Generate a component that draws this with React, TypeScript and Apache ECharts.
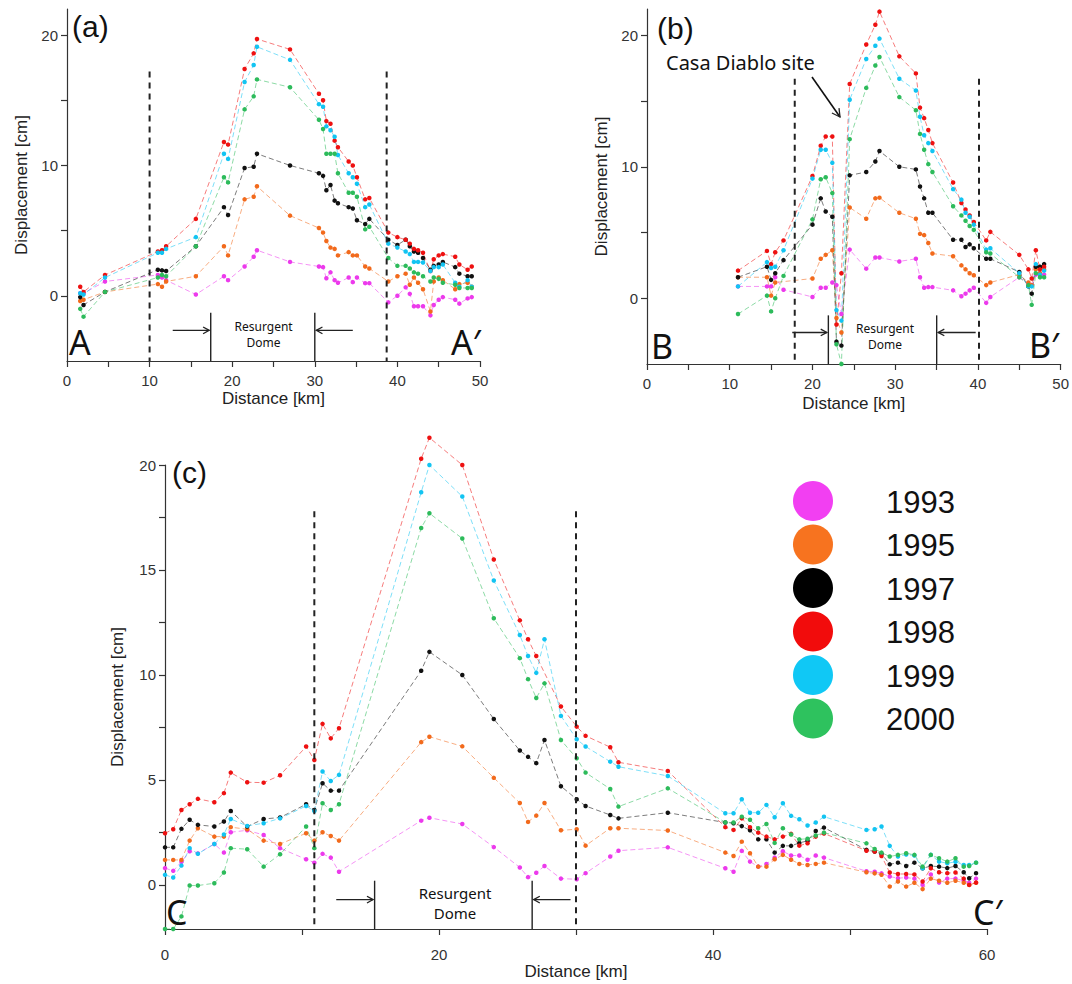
import React, { useEffect, useRef } from "react";
import * as echarts from "echarts";

const YEARS = ["1993", "1995", "1997", "1998", "1999", "2000"];
const YEAR_COLORS = ["#ec3aec", "#f26a1c", "#111111", "#ee1111", "#12c4f2", "#2dbb5b"];
const LEGEND_COLORS = ["#f23ff2", "#f7731f", "#000000", "#f20c0c", "#10c8f5", "#2ec25e"];

// ---------- Panel (a) ----------
const distA = [1.6, 2.0, 4.6, 11.0, 11.5, 12.0, 15.6, 19.0, 19.5, 21.5, 22.6, 23.0, 27.0, 30.5, 31.0, 31.4, 31.9, 32.4, 32.8, 34.1, 34.6, 35.1, 36.1, 36.6, 38.9, 40.0, 41.0, 41.5, 42.0, 42.5, 43.1, 44.0, 44.4, 45.0, 45.5, 47.0, 47.5, 48.5, 49.0];
const a1993 = [0.2, 0.2, 1.1, 1.6, 1.4, 1.2, 0.1, 1.5, 1.2, 2.25, 3.0, 3.5, 2.6, 2.25, 2.2, 1.35, 1.8, 1.2, 1.0, 1.4, 1.05, 1.4, 0.97, 0.97, -0.5, 0.0, 0.65, 0.15, -0.8, -0.8, -0.8, -1.5, -0.7, -0.3, -0.1, -0.3, -0.6, -0.2, -0.1];
const a1995 = [-0.4, -0.3, 0.3, 0.9, 0.7, 1.1, 1.5, 3.8, 3.1, 7.4, 7.6, 8.4, 6.15, 5.2, 4.85, 4.2, 3.7, 3.6, 3.1, 3.35, 3.1, 3.1, 2.25, 2.1, 1.1, 1.5, 1.7, 0.85, 1.4, 1.0, 0.5, -1.2, 1.1, 1.4, 1.2, 0.5, 0.9, 1.0, 0.7];
const a1997 = [-0.1, -0.7, 0.3, 2.0, 1.95, 1.9, 3.8, 6.8, 6.2, 9.8, 9.9, 10.9, 10.0, 9.4, 9.2, 8.1, 8.5, 7.3, 7.1, 6.8, 6.7, 5.8, 5.5, 5.9, 4.3, 3.9, 4.3, 3.8, 3.4, 3.3, 2.9, 2.0, 2.3, 2.4, 2.6, 2.2, 1.7, 1.5, 1.5];
const a1998 = [0.7, 0.3, 1.6, 3.4, 3.5, 3.8, 5.9, 11.8, 11.6, 17.4, 18.6, 19.7, 18.9, 15.5, 15.0, 13.4, 13.2, 11.9, 11.4, 10.3, 10.0, 9.1, 7.4, 7.5, 4.85, 4.5, 4.3, 4.0, 3.6, 3.5, 3.3, 1.9, 2.8, 3.1, 3.2, 3.0, 2.4, 2.0, 2.25];
const a1999 = [0.2, 0.1, 1.4, 3.3, 3.3, 3.6, 4.5, 10.9, 10.5, 16.4, 17.7, 19.1, 18.1, 14.7, 14.5, 13.0, 12.7, 12.2, 10.8, 9.4, 9.1, 8.6, 6.8, 7.0, 4.0, 3.7, 3.4, 3.2, 2.6, 2.6, 2.55, 1.9, 2.2, 2.2, 2.4, 1.0, 0.7, 1.2, 0.7];
const a2000 = [-1.0, -1.6, 0.3, 1.4, 1.6, 1.5, 3.8, 9.1, 8.7, 14.3, 15.3, 16.6, 16.0, 13.5, 12.8, 10.9, 10.9, 10.9, 9.4, 7.9, 7.9, 7.6, 5.1, 5.3, 2.9, 2.3, 2.3, 2.1, 1.8, 1.7, 1.5, 1.1, 1.4, 1.3, 1.0, 0.85, 0.6, 0.6, 0.6];

// ---------- Panel (b) ----------
const distB = [11.0, 14.5, 15.0, 15.5, 16.5, 20.0, 21.0, 21.6, 22.4, 22.9, 23.5, 24.5, 26.5, 27.6, 28.1, 30.5, 32.5, 33.0, 33.5, 34.0, 34.5, 37.0, 38.0, 38.5, 39.0, 39.5, 41.0, 41.5, 45.0, 46.1, 46.5, 47.0, 47.5, 48.0];
const b1993 = [0.9, 0.9, 0.9, 1.6, 0.65, 0.1, 0.8, 0.8, 1.2, 1.0, -1.2, 3.7, 2.25, 3.1, 3.1, 2.8, 3.0, 1.6, 0.8, 0.85, 0.85, 0.6, 0.15, 0.35, 0.6, 0.8, -0.35, 0.1, 1.6, 1.1, 1.0, 1.8, 1.8, 1.8];
const b1995 = [1.6, 1.6, 0.2, 1.2, null, 1.5, 3.0, 3.3, 3.65, -1.5, -2.6, 6.9, 6.05, 7.6, 7.65, 6.5, 6.05, 4.9, 4.8, 4.2, 3.4, 3.2, 2.5, 2.2, 1.9, 1.75, 1.0, 1.2, 1.8, 1.2, 1.0, 2.2, 1.9, 2.2];
const b1997 = [1.6, 2.4, 1.4, 1.9, 2.9, 5.6, 7.6, 6.6, 6.2, -3.3, -3.6, 9.35, 9.6, 10.4, 11.2, 10.0, 9.8, 8.5, 7.6, 6.5, 6.5, 4.45, 4.45, 3.9, 4.1, 3.8, 3.0, 3.0, 2.0, 0.9, 0.35, 2.4, 2.4, 2.6];
const b1998 = [2.1, 3.6, 2.6, 3.5, 4.4, 9.3, 11.6, 12.3, 12.3, -2.0, 1.9, 16.3, 19.3, 20.8, 21.8, 18.4, 17.1, 14.5, 13.7, 12.8, 11.8, 8.8, 7.25, 6.75, 6.3, 5.8, 4.4, 5.05, 3.3, 2.2, 1.5, 3.65, 2.2, 2.4];
const b1999 = [0.9, 2.75, 2.3, 2.4, 3.65, 9.1, 11.3, 11.3, 10.3, -0.9, -1.7, 15.1, 18.2, 19.2, 19.75, 16.7, 15.8, 13.8, 12.4, 11.8, 11.2, 8.3, 7.5, 6.5, 6.2, 5.6, 3.7, 3.8, 1.9, 0.9, 0.9, 2.6, 1.8, 2.1];
const b2000 = [-1.2, 0.2, -1.0, 0.0, 1.7, 6.0, 9.05, 9.2, 8.0, -3.5, -5.0, 12.1, 16.0, 17.7, 18.35, 15.3, 14.3, 12.5, 11.3, 10.2, 9.6, 7.0, 6.3, 5.9, 5.5, 5.2, 3.5, 3.4, 1.6, 1.0, -0.5, 1.9, 1.6, 1.6];

// ---------- Panel (c) ----------
const distC = [0.0, 0.6, 1.2, 1.8, 2.4, 3.6, 4.3, 4.8, 6.0, 7.2, 8.4, 10.3, 10.9, 11.5, 12.1, 12.7, 18.7, 19.3, 21.7, 24.0, 25.9, 26.5, 27.1, 27.7, 28.9, 30.05, 30.7, 32.5, 33.1, 36.7, 40.9, 41.5, 42.1, 42.7, 43.3, 43.9, 44.5, 45.1, 45.7, 46.3, 46.9, 47.5, 48.1, 51.2, 51.8, 52.3, 52.9, 53.5, 54.1, 54.7, 55.3, 55.9, 56.5, 57.1, 57.7, 58.3, 58.7, 59.2];
const c1993 = [0.8, 0.67, 1.1, 1.6, 1.5, 1.95, 1.54, 2.51, 2.6, 2.38, 1.75, 1.22, 1.06, 1.48, 1.3, 0.63, 3.06, 3.2, 2.9, 1.8, 0.83, 0.37, 0.58, 0.9, 0.3, 0.27, 0.56, 1.35, 1.63, 1.79, 0.79, 0.63, 1.62, 1.11, 0.87, 1.0, 1.3, 1.6, 1.4, 1.4, 1.2, 1.4, 1.3, 0.65, 0.63, 0.55, 0.4, 0.32, 0.35, 0.3, 0.0, 0.5, 0.11, 0.3, 0.3, 0.2, 0.1, 0.3];
const c1995 = [1.19, 1.19, 1.19, 2.11, 2.7, 2.3, 2.3, 2.75, 2.65, 2.11, 1.95, 2.46, 2.11, 2.51, 2.33, 2.11, 6.8, 7.06, 6.6, 5.1, 3.9, 3.0, 3.3, 3.9, 2.6, 2.65, 1.87, 2.7, 2.7, 2.59, 1.54, 1.38, 2.06, 1.51, 0.87, 0.87, 1.22, 1.43, 1.2, 1.0, 0.95, 1.0, 1.06, 0.6, 0.55, 0.48, -0.08, 0.16, -0.08, 0.1, -0.2, 0.3, 0.2, 0.1, 0.2, 0.1, 0.0, 0.1];
const c1997 = [1.79, 1.79, 2.67, 3.1, 2.86, 2.78, 3.02, 3.52, 2.78, 3.14, 3.21, 3.84, 3.57, 4.84, 4.49, 4.49, 10.2, 11.1, 10.0, 7.9, 6.4, 6.1, 5.8, 6.9, 4.7, 4.08, 3.76, 3.33, 3.17, 3.44, 2.97, 2.94, 2.8, 2.6, 2.17, 2.17, 1.54, 1.86, 1.86, 2.0, 2.1, 2.57, 2.73, 1.67, 1.59, 1.48, 0.98, 1.06, 0.9, 1.06, 0.79, 0.9, 0.87, 0.8, 0.9, 0.6, 0.32, 0.56];
const c1998 = [2.46, 2.65, 3.57, 3.84, 4.1, 3.94, 4.37, 5.35, 4.89, 4.87, 5.22, 6.59, 5.95, 7.67, 6.98, 7.46, 20.3, 21.3, 20.0, 15.5, 12.6, 11.7, 10.9, null, 8.5, 7.54, 7.1, 6.56, 5.84, 5.43, 2.75, 2.62, 3.17, 2.75, 2.49, 2.3, 2.17, 2.3, 2.43, 1.87, 1.98, 2.3, 2.45, 1.63, 1.59, 1.38, 0.59, 0.52, 0.52, 0.5, 0.16, 0.79, 0.6, 0.56, 0.59, 0.3, 0.0, 0.11];
const c1999 = [0.48, 0.35, 0.92, 1.75, 1.48, 1.95, 2.4, 3.14, 2.81, 2.94, 3.17, 3.76, 3.52, 5.4, 4.95, 5.24, 18.7, 20.0, 18.5, 14.5, 11.9, 10.9, 10.1, 11.7, 8.05, 6.94, 6.59, 5.87, 5.63, 5.19, 3.41, 3.41, 4.08, 3.44, 3.44, 3.81, 3.22, 3.89, 3.29, 3.13, 2.83, 2.97, 3.25, 2.62, 2.65, 2.78, 1.86, 1.35, 1.45, 1.4, 0.79, 1.43, 1.11, 1.03, 1.1, 0.95, 0.95, 1.06];
const c2000 = [-2.1, -2.1, -1.5, -0.03, -0.03, 0.08, 0.59, 1.75, 1.7, 0.87, 1.46, 2.78, 1.75, 3.89, 3.57, 3.84, 17.0, 17.7, 16.5, 12.7, 10.8, 9.8, 8.9, 9.6, 6.9, 6.03, 5.35, 4.57, 3.73, 4.6, 2.98, 2.97, 3.25, 3.1, 2.7, 2.9, 2.0, 2.7, 2.4, 2.17, 2.2, 2.35, 2.49, 1.98, 1.71, 1.54, 1.35, 1.43, 1.51, 1.43, 0.87, 1.43, 1.27, 1.11, 1.27, 0.87, 0.9, 1.06];

// ---------- Axis ticks / labels ----------
const ticksAB_X = [0, 5, 10, 15, 20, 25, 30, 35, 40, 45, 50];
const labelsAB_X = [0, 10, 20, 30, 40, 50];
const ticksAB_Y = [0, 5, 10, 15, 20];
const labelsAB_Y = [0, 10, 20];
const ticksC_X = [0, 10, 20, 30, 40, 50, 60];
const labelsC_X = [0, 20, 40, 60];
const ticksC_Y = [0, 2.5, 5, 7.5, 10, 12.5, 15, 17.5, 20];
const labelsC_Y = [0, 5, 10, 15, 20];

// ---------- Annotation values (in data units) ----------
const dashedA = [10, 38.7];
const dashedB = [17.8, 40];
const dashedC = [10.9, 30.0];

const PANELS = [
  { left: 67, top: 9, width: 413, height: 352, xMin: 0, xMax: 50, yMin: -5, yMax: 22 },
  { left: 647, top: 9, width: 415, height: 355, xMin: 0, xMax: 50, yMin: -5, yMax: 22 },
  { left: 165, top: 465, width: 822, height: 464, xMin: 0, xMax: 60, yMin: -2.1, yMax: 20 },
];

function px(p: number, x: number) {
  const P = PANELS[p];
  return P.left + ((x - P.xMin) / (P.xMax - P.xMin)) * P.width;
}
function py(p: number, y: number) {
  const P = PANELS[p];
  return P.top + ((P.yMax - y) / (P.yMax - P.yMin)) * P.height;
}

const LABEL_FONT = "'Liberation Sans', Arial, Helvetica, sans-serif";
const ANNO_FONT = "'Noto Sans', 'Open Sans', sans-serif";

function zip(xs: number[], ys: (number | null)[]) {
  const out: number[][] = [];
  xs.forEach((x, i) => {
    const v = ys[i];
    if (v !== null && v !== undefined) out.push([x, v]);
  });
  return out;
}

function buildOption() {
  const panelsData = [
    { dist: distA, vals: [a1993, a1995, a1997, a1998, a1999, a2000] },
    { dist: distB, vals: [b1993, b1995, b1997, b1998, b1999, b2000] },
    { dist: distC, vals: [c1993, c1995, c1997, c1998, c1999, c2000] },
  ];

  const series: any[] = [];
  panelsData.forEach((pd, p) => {
    pd.vals.forEach((vals, i) => {
      series.push({
        type: "line",
        name: YEARS[i],
        xAxisIndex: p,
        yAxisIndex: p,
        data: zip(pd.dist, vals),
        symbol: "circle",
        symbolSize: 4.5,
        clip: false,
        silent: true,
        lineStyle: { color: YEAR_COLORS[i], width: 1, type: [5, 3], opacity: 0.55 },
        itemStyle: { color: YEAR_COLORS[i] },
        emphasis: { disabled: true },
        z: 3,
      });
    });
  });

  const axisLineStyle = { color: "#333", width: 1.2 };
  const mkX = (p: number, ticks: number[], labels: number[], nameGap: number, labelMargin: number) => ({
    type: "value",
    gridIndex: p,
    min: PANELS[p].xMin,
    max: PANELS[p].xMax,
    name: "Distance [km]",
    nameLocation: "middle",
    nameGap,
    nameTextStyle: { fontSize: 17, color: "#222", fontFamily: LABEL_FONT },
    axisLine: { show: true, onZero: false, lineStyle: axisLineStyle },
    axisTick: { show: true, length: 6, customValues: ticks, lineStyle: axisLineStyle },
    axisLabel: { customValues: labels, fontSize: 15, color: "#333", margin: labelMargin, fontFamily: LABEL_FONT },
    splitLine: { show: false },
  });
  const mkY = (p: number, ticks: number[], labels: number[], nameGap: number) => ({
    type: "value",
    gridIndex: p,
    min: PANELS[p].yMin,
    max: PANELS[p].yMax,
    name: "Displacement [cm]",
    nameLocation: "middle",
    nameGap,
    nameTextStyle: { fontSize: 17, color: "#222", fontFamily: LABEL_FONT },
    axisLine: { show: true, onZero: false, lineStyle: axisLineStyle },
    axisTick: { show: true, length: 6, customValues: ticks, lineStyle: axisLineStyle },
    axisLabel: { customValues: labels, fontSize: 15, color: "#333", margin: 9, fontFamily: LABEL_FONT },
    splitLine: { show: false },
  });

  // ---------- graphic annotations ----------
  const g: any[] = [];
  const vdash = (p: number, x: number, yTop: number) => {
    g.push({
      type: "line",
      silent: true,
      z: 10,
      shape: { x1: px(p, x), y1: py(p, yTop), x2: px(p, x), y2: py(p, PANELS[p].yMin) },
      style: { stroke: "#222", lineWidth: 2, lineDash: [6, 5] },
    });
  };
  dashedA.forEach((x) => vdash(0, x, 17.2));
  dashedB.forEach((x) => vdash(1, x, 16.7));
  dashedC.forEach((x) => vdash(2, x, 17.8));

  const arrowHead = (x: number, y: number, angle: number, size: number) => {
    const a1 = angle + Math.PI - 0.5;
    const a2 = angle + Math.PI + 0.5;
    g.push({
      type: "polyline",
      silent: true,
      z: 10,
      shape: {
        points: [
          [x + size * Math.cos(a1), y + size * Math.sin(a1)],
          [x, y],
          [x + size * Math.cos(a2), y + size * Math.sin(a2)],
        ],
      },
      style: { stroke: "#222", lineWidth: 1.3, fill: null },
    });
  };

  const bracket = (p: number, xLine: number, xTail: number, yTop: number, yArrow: number) => {
    const X = px(p, xLine);
    g.push({
      type: "line",
      silent: true,
      z: 10,
      shape: { x1: X, y1: py(p, yTop), x2: X, y2: py(p, PANELS[p].yMin) },
      style: { stroke: "#222", lineWidth: 1.4 },
    });
    const T = px(p, xTail);
    const Y = py(p, yArrow);
    const dir = X > T ? 1 : -1;
    const tip = X - dir * 1.5;
    g.push({
      type: "line",
      silent: true,
      z: 10,
      shape: { x1: T, y1: Y, x2: tip, y2: Y },
      style: { stroke: "#222", lineWidth: 1.4 },
    });
    arrowHead(tip, Y, dir > 0 ? 0 : Math.PI, 7);
  };
  bracket(0, 17.4, 12.8, -1.3, -2.65);
  bracket(0, 30.0, 34.6, -1.3, -2.65);
  bracket(1, 21.85, 17.5, -1.3, -2.6);
  bracket(1, 34.9, 39.6, -1.3, -2.6);
  bracket(2, 15.3, 12.5, 0.2, -0.7);
  bracket(2, 26.8, 29.6, 0.2, -0.7);

  const text = (
    t: string,
    x: number,
    y: number,
    size: number,
    family: string,
    align = "left",
    lineHeight?: number
  ) => {
    const style: any = {
      text: t,
      x,
      y,
      fontSize: size,
      fontFamily: family,
      fill: "#111",
      textAlign: align,
      textVerticalAlign: "middle",
    };
    if (lineHeight) style.lineHeight = lineHeight;
    g.push({ type: "text", silent: true, z: 11, style });
  };

  // Resurgent Dome labels (two-line texts)
  text("Resurgent\nDome", px(0, 23.8), 334, 12, ANNO_FONT, "center", 16);
  text("Resurgent\nDome", 885, 336, 12, ANNO_FONT, "center", 16);
  text("Resurgent\nDome", 455, 903, 15, ANNO_FONT, "center", 20);

  // Panel tags
  text("(a)", 72, 26, 30, LABEL_FONT);
  text("(b)", 657, 28, 30, LABEL_FONT);
  text("(c)", 172, 472, 30, LABEL_FONT);

  // Profile end letters
  text("A", 69, 342, 34, ANNO_FONT);
  text("A\u2032", 451, 342, 34, ANNO_FONT);
  text("B", 651, 346, 34, ANNO_FONT);
  text("B\u2032", 1029, 345, 34, ANNO_FONT);
  text("C", 166, 912, 34, ANNO_FONT);
  text("C\u2032", 973, 912, 34, ANNO_FONT);

  // Casa Diablo site
  text("Casa Diablo site", 666, 62, 20, ANNO_FONT);
  g.push({
    type: "line",
    silent: true,
    z: 10,
    shape: { x1: 812, y1: 77, x2: 840, y2: 117 },
    style: { stroke: "#111", lineWidth: 1.6 },
  });
  arrowHead(840, 117, Math.atan2(117 - 77, 840 - 812), 9);

  // Legend
  YEARS.forEach((y, i) => {
    const cy = 501 + i * 43.5;
    g.push({ type: "circle", silent: true, z: 11, shape: { cx: 813, cy, r: 20 }, style: { fill: LEGEND_COLORS[i] } });
    text(y, 886, cy + 1, 31, LABEL_FONT);
  });

  return {
    animation: false,
    backgroundColor: "#ffffff",
    grid: PANELS.map((P) => ({ left: P.left, top: P.top, width: P.width, height: P.height, containLabel: false })),
    xAxis: [
      mkX(0, ticksAB_X, labelsAB_X, 29, 12),
      mkX(1, ticksAB_X, labelsAB_X, 31, 12),
      mkX(2, ticksC_X, labelsC_X, 34, 18),
    ],
    yAxis: [
      mkY(0, ticksAB_Y, labelsAB_Y, 37),
      mkY(1, ticksAB_Y, labelsAB_Y, 37),
      mkY(2, ticksC_Y, labelsC_Y, 39),
    ],
    series,
    graphic: { elements: g },
  };
}

export default function App() {
  const ref = useRef<HTMLDivElement>(null);
  useEffect(() => {
    if (!ref.current) return;
    const chart = echarts.init(ref.current, null, { renderer: "svg" });
    chart.setOption(buildOption() as any);
    return () => {
      chart.dispose();
    };
  }, []);
  return (
    <div
      ref={ref}
      style={{ position: "absolute", left: 0, top: 0, width: 1072, height: 984, background: "#fff" }}
    />
  );
}
